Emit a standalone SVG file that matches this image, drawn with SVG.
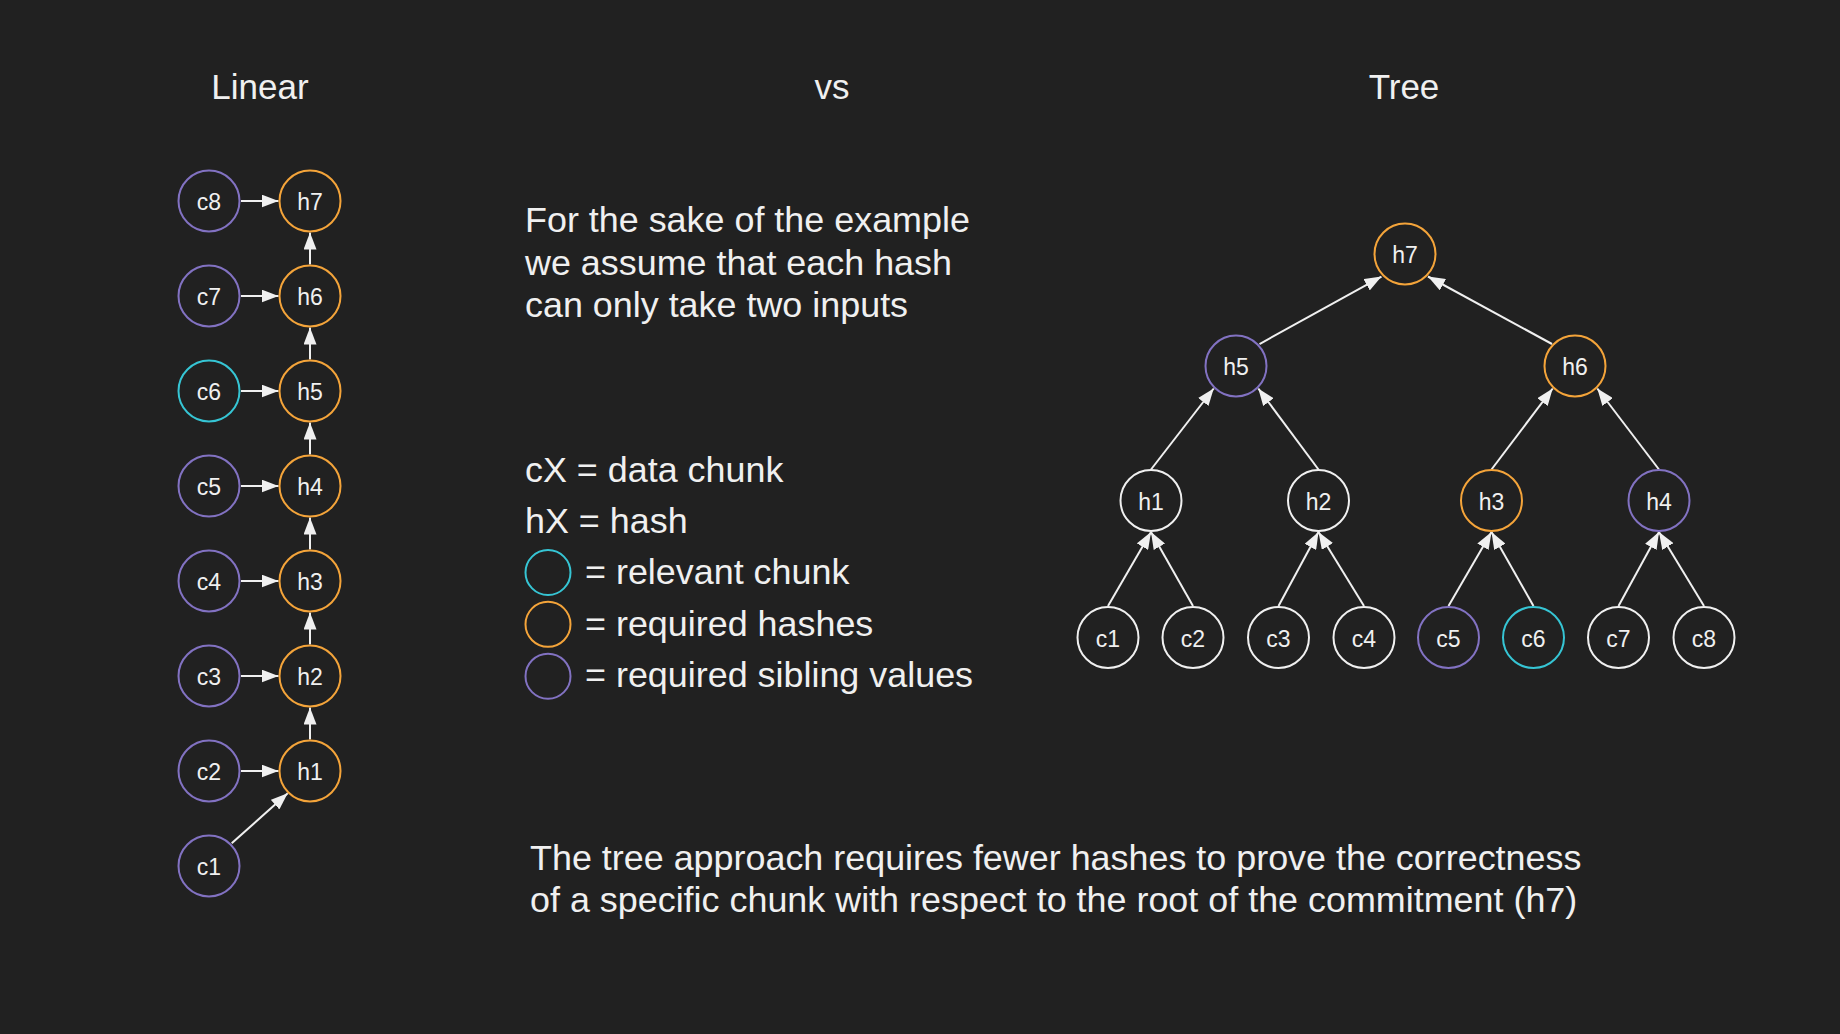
<svg xmlns="http://www.w3.org/2000/svg" width="1840" height="1034" viewBox="0 0 1840 1034">
<style>
text{font-family:"Liberation Sans",Arial,Helvetica,sans-serif;fill:#f0f0f0}
.t{font-size:35px}
.p{font-size:35.9px}
.n{font-size:23px;text-anchor:middle}
circle{fill:none;stroke-width:2}
.o{stroke:#f4a43a}
.u{stroke:#8272c2}
.c{stroke:#36c5d4}
.w{stroke:#f0f0f0}
.e line{stroke:#f0f0f0;stroke-width:2;marker-end:url(#arr)}
</style>
<defs>
<marker id="arr" viewBox="0 0 17 13" refX="17" refY="6.5" markerWidth="17" markerHeight="13" markerUnits="userSpaceOnUse" orient="auto">
<path d="M0,0 L17,6.5 L0,13 z" fill="#f0f0f0"/>
</marker>
</defs>
<rect width="1840" height="1034" fill="#212121"/>

<g id="titles">
<text class="t" x="260" y="99" text-anchor="middle">Linear</text>
<text class="t" x="832" y="99" text-anchor="middle">vs</text>
<text class="t" x="1404" y="99" text-anchor="middle">Tree</text>
</g>

<g id="note">
<text class="p" x="525" y="232">For the sake of the example</text>
<text class="p" x="525" y="274.5">we assume that each hash</text>
<text class="p" x="525" y="316.7">can only take two inputs</text>
</g>

<g id="legend">
<text class="p" x="525" y="481.7">cX = data chunk</text>
<text class="p" x="525" y="533">hX = hash</text>
<circle class="c" cx="548" cy="572.5" r="22.5"/>
<text class="p" x="585" y="584">= relevant chunk</text>
<circle class="o" cx="548" cy="624.3" r="22.5"/>
<text class="p" x="585" y="636">= required hashes</text>
<circle class="u" cx="548" cy="676.2" r="22.5"/>
<text class="p" x="585" y="687">= required sibling values</text>
</g>

<g id="conclusion">
<text class="p" x="530" y="870">The tree approach requires fewer hashes to prove the correctness</text>
<text class="p" x="530" y="912">of a specific chunk with respect to the root of the commitment (h7)</text>
</g>

<g id="linear-connectors" class="e">
<line x1="241" y1="201" x2="278.5" y2="201"/>
<line x1="241" y1="296" x2="278.5" y2="296"/>
<line x1="241" y1="391" x2="278.5" y2="391"/>
<line x1="241" y1="486" x2="278.5" y2="486"/>
<line x1="241" y1="581" x2="278.5" y2="581"/>
<line x1="241" y1="676" x2="278.5" y2="676"/>
<line x1="241" y1="771" x2="278.5" y2="771"/>
<line x1="231.7" y1="843.3" x2="287.7" y2="793.3"/>
<line x1="310" y1="739.5" x2="310" y2="707.5"/>
<line x1="310" y1="644.5" x2="310" y2="612.5"/>
<line x1="310" y1="549.5" x2="310" y2="517.5"/>
<line x1="310" y1="454.5" x2="310" y2="422.5"/>
<line x1="310" y1="359.5" x2="310" y2="327.5"/>
<line x1="310" y1="264.5" x2="310" y2="232.5"/>
</g>

<g id="lin-c8"><circle class="u" cx="209" cy="201" r="30.5"/><text class="n" x="209" y="210">c8</text></g>
<g id="lin-c7"><circle class="u" cx="209" cy="296" r="30.5"/><text class="n" x="209" y="305">c7</text></g>
<g id="lin-c6"><circle class="c" cx="209" cy="391" r="30.5"/><text class="n" x="209" y="400">c6</text></g>
<g id="lin-c5"><circle class="u" cx="209" cy="486" r="30.5"/><text class="n" x="209" y="495">c5</text></g>
<g id="lin-c4"><circle class="u" cx="209" cy="581" r="30.5"/><text class="n" x="209" y="590">c4</text></g>
<g id="lin-c3"><circle class="u" cx="209" cy="676" r="30.5"/><text class="n" x="209" y="685">c3</text></g>
<g id="lin-c2"><circle class="u" cx="209" cy="771" r="30.5"/><text class="n" x="209" y="780">c2</text></g>
<g id="lin-c1"><circle class="u" cx="209" cy="866" r="30.5"/><text class="n" x="209" y="875">c1</text></g>
<g id="lin-h7"><circle class="o" cx="310" cy="201" r="30.5"/><text class="n" x="310" y="210">h7</text></g>
<g id="lin-h6"><circle class="o" cx="310" cy="296" r="30.5"/><text class="n" x="310" y="305">h6</text></g>
<g id="lin-h5"><circle class="o" cx="310" cy="391" r="30.5"/><text class="n" x="310" y="400">h5</text></g>
<g id="lin-h4"><circle class="o" cx="310" cy="486" r="30.5"/><text class="n" x="310" y="495">h4</text></g>
<g id="lin-h3"><circle class="o" cx="310" cy="581" r="30.5"/><text class="n" x="310" y="590">h3</text></g>
<g id="lin-h2"><circle class="o" cx="310" cy="676" r="30.5"/><text class="n" x="310" y="685">h2</text></g>
<g id="lin-h1"><circle class="o" cx="310" cy="771" r="30.5"/><text class="n" x="310" y="780">h1</text></g>

<g id="tree-connectors" class="e">
<line x1="1108" y1="606" x2="1151" y2="532"/>
<line x1="1193" y1="606" x2="1151" y2="532"/>
<line x1="1278.5" y1="606" x2="1318.5" y2="532"/>
<line x1="1364" y1="606" x2="1318.5" y2="532"/>
<line x1="1448.5" y1="606" x2="1491.5" y2="532"/>
<line x1="1533.5" y1="606" x2="1491.5" y2="532"/>
<line x1="1618.5" y1="606" x2="1659" y2="532"/>
<line x1="1704" y1="606" x2="1659" y2="532"/>
<line x1="1151" y1="469.5" x2="1213.7" y2="388.5"/>
<line x1="1318.5" y1="469.5" x2="1258.3" y2="388.5"/>
<line x1="1491.5" y1="469.5" x2="1552.7" y2="388.5"/>
<line x1="1659" y1="469.5" x2="1597.3" y2="388.5"/>
<line x1="1259.5" y1="344" x2="1381.5" y2="276.5"/>
<line x1="1552" y1="344" x2="1428" y2="276.5"/>
</g>

<g id="tree-h7"><circle class="o" cx="1405" cy="254" r="30.5"/><text class="n" x="1405" y="263">h7</text></g>
<g id="tree-h5"><circle class="u" cx="1236" cy="366" r="30.5"/><text class="n" x="1236" y="375">h5</text></g>
<g id="tree-h6"><circle class="o" cx="1575" cy="366" r="30.5"/><text class="n" x="1575" y="375">h6</text></g>
<g id="tree-h1"><circle class="w" cx="1151" cy="500.5" r="30.5"/><text class="n" x="1151" y="509.5">h1</text></g>
<g id="tree-h2"><circle class="w" cx="1318.5" cy="500.5" r="30.5"/><text class="n" x="1318.5" y="509.5">h2</text></g>
<g id="tree-h3"><circle class="o" cx="1491.5" cy="500.5" r="30.5"/><text class="n" x="1491.5" y="509.5">h3</text></g>
<g id="tree-h4"><circle class="u" cx="1659" cy="500.5" r="30.5"/><text class="n" x="1659" y="509.5">h4</text></g>
<g id="tree-c1"><circle class="w" cx="1108" cy="637.5" r="30.5"/><text class="n" x="1108" y="646.5">c1</text></g>
<g id="tree-c2"><circle class="w" cx="1193" cy="637.5" r="30.5"/><text class="n" x="1193" y="646.5">c2</text></g>
<g id="tree-c3"><circle class="w" cx="1278.5" cy="637.5" r="30.5"/><text class="n" x="1278.5" y="646.5">c3</text></g>
<g id="tree-c4"><circle class="w" cx="1364" cy="637.5" r="30.5"/><text class="n" x="1364" y="646.5">c4</text></g>
<g id="tree-c5"><circle class="u" cx="1448.5" cy="637.5" r="30.5"/><text class="n" x="1448.5" y="646.5">c5</text></g>
<g id="tree-c6"><circle class="c" cx="1533.5" cy="637.5" r="30.5"/><text class="n" x="1533.5" y="646.5">c6</text></g>
<g id="tree-c7"><circle class="w" cx="1618.5" cy="637.5" r="30.5"/><text class="n" x="1618.5" y="646.5">c7</text></g>
<g id="tree-c8"><circle class="w" cx="1704" cy="637.5" r="30.5"/><text class="n" x="1704" y="646.5">c8</text></g>
</svg>
